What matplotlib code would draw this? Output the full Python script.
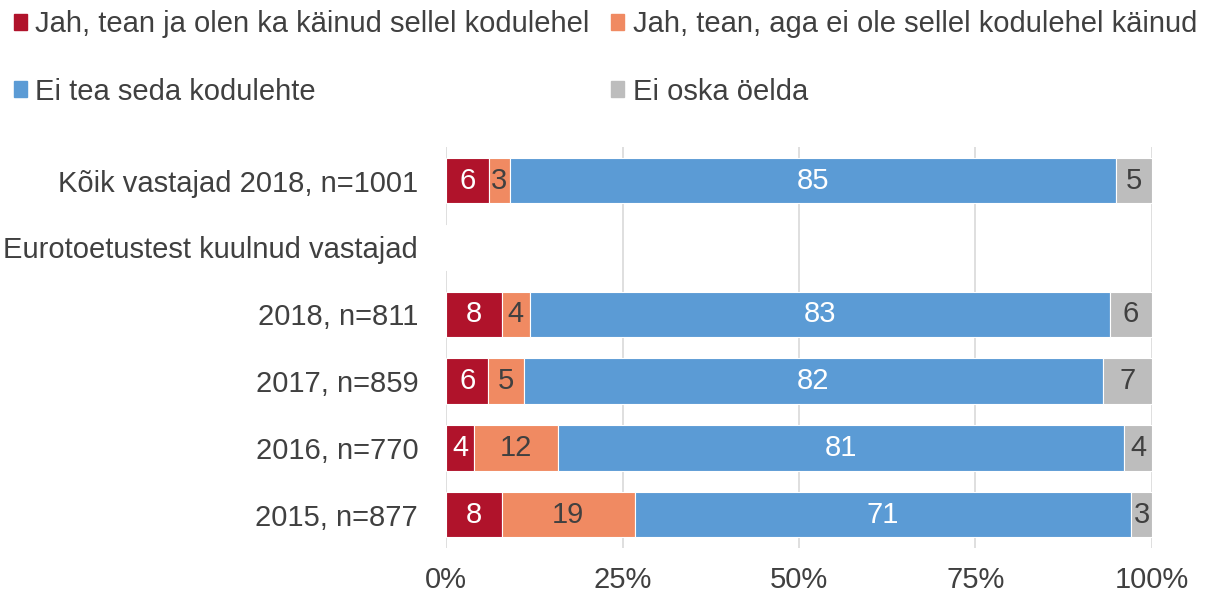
import matplotlib.pyplot as plt
from matplotlib.patches import Patch
import numpy as np

plt.rcParams['font.family'] = ['Liberation Sans', 'DejaVu Sans']

# andmed
rows = ['Kõik vastajad 2018, n=1001', 'Eurotoetustest kuulnud vastajad',
        '2018, n=811', '2017, n=859', '2016, n=770', '2015, n=877']
series = ['Jah, tean ja olen ka käinud sellel kodulehel',
          'Jah, tean, aga ei ole sellel kodulehel käinud',
          'Ei tea seda kodulehte',
          'Ei oska öelda']
kainud = [6, np.nan, 8, 6, 4, 8]
ei_kainud = [3, np.nan, 4, 5, 12, 19]
ei_tea = [85, np.nan, 83, 82, 81, 71]
ei_oska = [5, np.nan, 6, 7, 4, 3]

colors = ['#B0132B', '#F08A62', '#5B9BD5', '#BDBDBD']
txt_colors = ['white', '#404040', 'white', '#404040']
dark = '#404040'
fs = 21

vals = np.array([kainud, ei_kainud, ei_tea, ei_oska], dtype=float)
totals = np.nansum(vals, axis=0)

fig = plt.figure(figsize=(12.28, 5.96), dpi=100)
ax = fig.add_axes([0.3632, 0.0805, 0.5749, 0.6725])

y = np.arange(len(rows))
left = np.zeros(len(rows))
for i in range(4):
    w = np.where(np.isnan(vals[i]), 0, vals[i] / np.where(totals == 0, 1, totals) * 100)
    ax.barh(y, w, left=left, height=0.68, color=colors[i], edgecolor='white',
            linewidth=0.8, zorder=3)
    for j in range(len(rows)):
        if np.isnan(vals[i][j]):
            continue
        ax.text(left[j] + w[j] / 2, y[j], f'{vals[i][j]:.0f}', ha='center',
                va='center', color=txt_colors[i], fontsize=fs, zorder=4)
    left += w

ax.set_xlim(0, 100)
ax.set_ylim(5.5, -0.5)
ax.set_yticks(y)
ax.set_yticklabels(rows, fontsize=fs, color=dark)
ax.set_xticks([0, 25, 50, 75, 100])
ax.set_xticklabels(['0%', '25%', '50%', '75%', '100%'], fontsize=fs, color=dark)
ax.tick_params(length=0)
ax.tick_params(axis='y', pad=20)
ax.tick_params(axis='x', pad=13)
ax.xaxis.grid(True, color='#D9D9D9', linewidth=1.2, zorder=0)
for s in ax.spines.values():
    s.set_visible(False)

handles = [Patch(color=colors[k]) for k in [0, 2, 1, 3]]
labels = [series[k] for k in [0, 2, 1, 3]]
fig.legend(handles, labels, ncol=2, loc='upper left', bbox_to_anchor=(-0.003, 1.012),
           frameon=False, fontsize=fs, handlelength=0.45, handleheight=0.45,
           handletextpad=0.28, labelspacing=1.35, columnspacing=0.75,
           labelcolor=dark, borderaxespad=0.2)

fig.savefig('out.png', dpi=100)
